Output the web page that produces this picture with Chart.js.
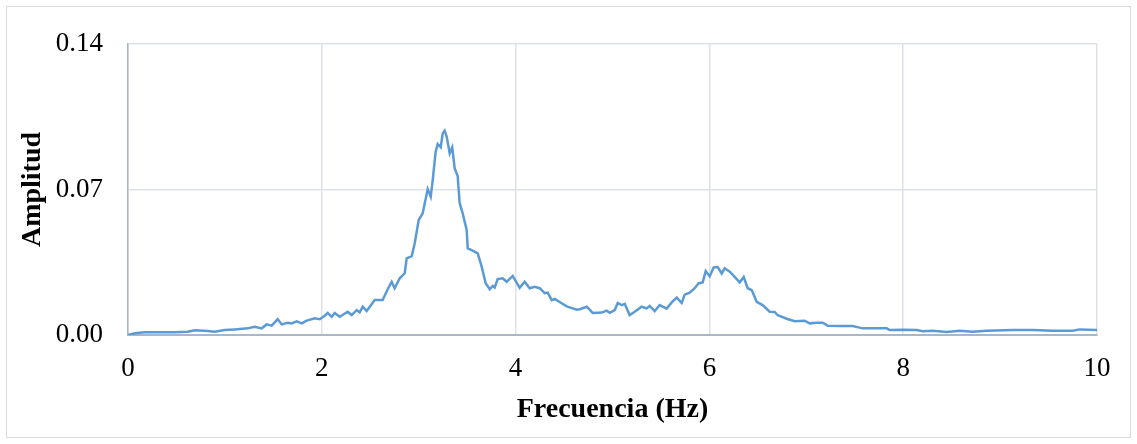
<!DOCTYPE html>
<html lang="es">
<head>
<meta charset="UTF-8">
<title>Espectro de amplitud</title>
<script src="https://cdn.jsdelivr.net/npm/chart.js"></script>
<style>
    html, body { margin: 0; padding: 0; background: #ffffff; }
    .wrap { position: relative; width: 1137px; height: 444px; }
</style>
</head>
<body>
<div class="wrap"><canvas id="fft"></canvas></div>
<script>
const freq = [0.00, 0.07, 0.172, 0.307, 0.482, 0.616, 0.688, 0.823, 0.895, 0.998,
    1.101, 1.235, 1.308, 1.380, 1.431, 1.483, 1.545, 1.586, 1.648, 1.689,
    1.741, 1.793, 1.844, 1.927, 1.978, 2.030, 2.061, 2.102, 2.133, 2.185,
    2.267, 2.309, 2.360, 2.391, 2.422, 2.463, 2.546, 2.628, 2.680, 2.721,
    2.752, 2.804, 2.856, 2.876, 2.928, 2.959, 3.000, 3.041, 3.093, 3.124,
    3.145, 3.175, 3.196, 3.227, 3.248, 3.268, 3.289, 3.320, 3.346, 3.371,
    3.402, 3.423, 3.454, 3.495, 3.506, 3.557, 3.609, 3.650, 3.691, 3.733,
    3.764, 3.784, 3.815, 3.867, 3.908, 3.970, 4.042, 4.094, 4.145, 4.197,
    4.249, 4.300, 4.331, 4.373, 4.404, 4.455, 4.527, 4.589, 4.631, 4.662,
    4.734, 4.796, 4.889, 4.940, 4.971, 5.023, 5.054, 5.095, 5.126, 5.177,
    5.229, 5.301, 5.353, 5.384, 5.436, 5.487, 5.559, 5.611, 5.663, 5.714,
    5.745, 5.797, 5.848, 5.890, 5.931, 5.962, 6.003, 6.044, 6.086, 6.127,
    6.158, 6.210, 6.261, 6.313, 6.354, 6.395, 6.437, 6.488, 6.550, 6.622,
    6.674, 6.705, 6.798, 6.880, 6.983, 7.035, 7.107, 7.169, 7.221, 7.345,
    7.479, 7.582, 7.830, 7.861, 7.995, 8.139, 8.201, 8.304, 8.449, 8.583,
    8.717, 8.862, 9.130, 9.336, 9.543, 9.749, 9.821, 10.00];
const amp = [0.0000, 0.0008, 0.0013, 0.0013, 0.0013, 0.0016, 0.0023, 0.0019, 0.0016, 0.0024,
    0.0027, 0.0032, 0.0040, 0.0032, 0.0051, 0.0045, 0.0076, 0.0051, 0.0059, 0.0056,
    0.0066, 0.0056, 0.0069, 0.0080, 0.0076, 0.0093, 0.0106, 0.0087, 0.0106, 0.0088,
    0.0112, 0.0096, 0.0120, 0.0109, 0.0136, 0.0115, 0.0168, 0.0168, 0.0220, 0.0256,
    0.0225, 0.0273, 0.0297, 0.0369, 0.0380, 0.0441, 0.0553, 0.0585, 0.0702, 0.0665,
    0.0746, 0.0882, 0.0919, 0.0903, 0.0970, 0.0983, 0.0954, 0.0874, 0.0903, 0.0802,
    0.0765, 0.0634, 0.0585, 0.0505, 0.0417, 0.0406, 0.0393, 0.0329, 0.0249, 0.0220,
    0.0236, 0.0229, 0.0269, 0.0273, 0.0256, 0.0284, 0.0227, 0.0256, 0.0225, 0.0232,
    0.0225, 0.0201, 0.0204, 0.0168, 0.0174, 0.0159, 0.0138, 0.0128, 0.0122, 0.0124,
    0.0136, 0.0106, 0.0108, 0.0117, 0.0107, 0.0120, 0.0154, 0.0144, 0.0150, 0.0096,
    0.0112, 0.0136, 0.0128, 0.0140, 0.0115, 0.0144, 0.0127, 0.0157, 0.0180, 0.0154,
    0.0194, 0.0204, 0.0225, 0.0249, 0.0253, 0.0308, 0.0282, 0.0325, 0.0327, 0.0296,
    0.0321, 0.0305, 0.0280, 0.0253, 0.0279, 0.0225, 0.0216, 0.0160, 0.0144, 0.0112,
    0.0111, 0.0095, 0.0078, 0.0066, 0.0069, 0.0056, 0.0059, 0.0059, 0.0045, 0.0043,
    0.0043, 0.0032, 0.0032, 0.0024, 0.0025, 0.0024, 0.0018, 0.0021, 0.0014, 0.0021,
    0.0016, 0.0021, 0.0024, 0.0024, 0.0021, 0.0021, 0.0027, 0.0024];

const xTicks = [0, 2, 4, 6, 8, 10];
const yTicks = [0, 0.07, 0.14];

const serif = '"Liberation Serif", "Times New Roman", serif';
const gridCol = '#dde2ea';
const axisCol = '#aab6c9';

// marco gris alrededor de todo el grafico
const frame = {
    id: 'frame',
    afterDraw(chart) {
        const c = chart.ctx;
        c.save();
        c.strokeStyle = '#d9d9d9';
        c.lineWidth = 1;
        c.strokeRect(6.5, 6.5, 1124, 431);
        c.restore();
    }
};

new Chart(document.getElementById('fft'), {
    type: 'line',
    data: {
        datasets: [{
            data: freq.map((f, i) => ({ x: f, y: amp[i] })),
            borderColor: '#5b9bd5',
            borderWidth: 2.5,
            pointRadius: 0,
            tension: 0,
            fill: false
        }]
    },
    options: {
        responsive: true,
        maintainAspectRatio: false,
        animation: false,
        layout: { padding: { left: 0, top: 44, right: 40, bottom: 0 } },
        plugins: { legend: { display: false }, tooltip: { enabled: false } },
        scales: {
            x: {
                type: 'linear',
                min: 0,
                max: 10,
                afterFit: s => { s.height = 109; },
                afterBuildTicks: s => { s.ticks = xTicks.map(v => ({ value: v })); },
                grid: { color: gridCol, lineWidth: 1.5, drawTicks: false },
                border: { color: axisCol, width: 2 },
                ticks: {
                    color: '#000',
                    padding: 18,
                    maxRotation: 0,
                    font: { family: serif, size: 27 },
                    callback: v => String(v)
                },
                title: {
                    display: true,
                    text: 'Frecuencia (Hz)',
                    color: '#000',
                    font: { family: serif, size: 28, weight: 'bold' },
                    padding: { top: 0, bottom: 17 }
                }
            },
            y: {
                min: 0,
                max: 0.14,
                afterFit: s => { s.width = 128; },
                afterBuildTicks: s => { s.ticks = yTicks.map(v => ({ value: v })); },
                grid: { color: gridCol, lineWidth: 1.5, drawTicks: false },
                border: { color: axisCol, width: 1.5 },
                ticks: {
                    color: '#000',
                    padding: 25,
                    font: { family: serif, size: 27 },
                    callback: v => v.toFixed(2)
                },
                title: {
                    display: true,
                    text: 'Amplitud',
                    color: '#000',
                    font: { family: serif, size: 28, weight: 'bold' },
                    padding: { top: 16, bottom: 0 }
                }
            }
        }
    },
    plugins: [frame]
});
</script>
</body>
</html>
